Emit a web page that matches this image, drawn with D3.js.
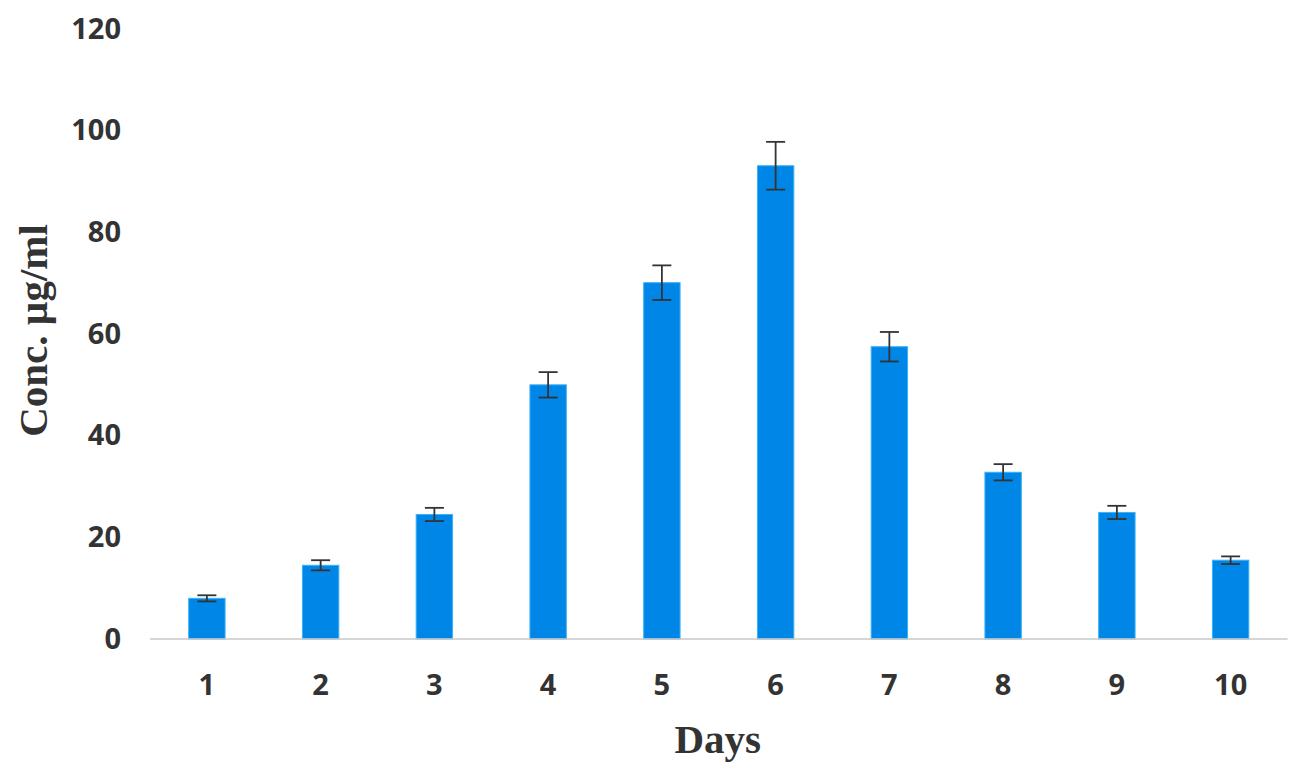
<!DOCTYPE html>
<html>
<head>
<meta charset="utf-8">
<script src="https://cdn.jsdelivr.net/npm/d3@7"></script>
<style>
  html, body { margin: 0; padding: 0; background: #ffffff; }
  svg { display: block; }
</style>
</head>
<body>
<svg id="chart" width="1300" height="774"></svg>
<script>
const days = ["1", "2", "3", "4", "5", "6", "7", "8", "9", "10"];
const concentration = [8.0, 14.5, 24.5, 50.0, 70.1, 93.1, 57.5, 32.8, 24.9, 15.5];
const errors = [0.6, 1.0, 1.3, 2.5, 3.4, 4.7, 2.9, 1.6, 1.3, 0.75];
const yTicks = [0, 20, 40, 60, 80, 100, 120];
const xTitle = "Days";
const yTitle = "Conc. µg/ml";

(function () {
const svg = d3.select("#chart");
const mLeft = 150, mRight = 1287.5, mTop = 29, mBottom = 639;

const x = d3.scaleBand().domain(days).range([mLeft, mRight]).paddingInner(0.68).paddingOuter(0.34);
const y = d3.scaleLinear().domain([0, 120]).range([mBottom, mTop]);

const tickFont = "'Open Sans', sans-serif";
const textColor = "#333333";

// Y axis (labels only)
const yAxis = svg.append("g")
  .attr("transform", `translate(${mLeft},0)`)
  .call(d3.axisLeft(y).tickValues(yTicks).tickSize(0).tickPadding(29));
yAxis.select(".domain").remove();
yAxis.selectAll("text")
  .attr("font-family", tickFont).attr("font-weight", "bold")
  .attr("font-size", "29px").attr("fill", textColor);

// Bars
svg.append("g").selectAll("rect").data(days).join("rect")
  .attr("x", d => x(d))
  .attr("y", (d, i) => y(concentration[i]))
  .attr("width", x.bandwidth())
  .attr("height", (d, i) => y(0) - y(concentration[i]))
  .attr("fill", "#0086e6")
  .attr("stroke", "#3ab2f7")
  .attr("stroke-width", 1);

// Error bars
const eb = svg.append("g").attr("stroke", "#333333").attr("stroke-width", 1.8).attr("fill", "none");
const capHalf = 9.5;
days.forEach((d, i) => {
  const cx = x(d) + x.bandwidth() / 2;
  const hi = y(concentration[i] + errors[i]);
  const lo = y(concentration[i] - errors[i]);
  eb.append("line").attr("x1", cx).attr("x2", cx).attr("y1", hi).attr("y2", lo);
  eb.append("line").attr("x1", cx - capHalf).attr("x2", cx + capHalf).attr("y1", hi).attr("y2", hi);
  eb.append("line").attr("x1", cx - capHalf).attr("x2", cx + capHalf).attr("y1", lo).attr("y2", lo);
});

// X axis
const xAxis = svg.append("g")
  .attr("transform", `translate(0,${mBottom})`)
  .call(d3.axisBottom(x).tickSize(0).tickPadding(35));
xAxis.select(".domain").attr("stroke", "#c8c8c8").attr("stroke-width", 1.6)
  .attr("d", `M${mLeft},0H${mRight}`);
xAxis.selectAll("text")
  .attr("font-family", tickFont).attr("font-weight", "bold")
  .attr("font-size", "29px").attr("fill", textColor);

// Axis titles
svg.append("text")
  .attr("x", (mLeft + mRight) / 2 - 1).attr("y", 753)
  .attr("text-anchor", "middle")
  .attr("font-family", "'Liberation Serif', 'Times New Roman', serif")
  .attr("font-weight", "bold").attr("font-size", "41px").attr("fill", textColor)
  .text(xTitle);

svg.append("text")
  .attr("transform", "translate(47,330.5) rotate(-90)")
  .attr("text-anchor", "middle")
  .attr("font-family", "'Liberation Serif', 'Times New Roman', serif")
  .attr("font-weight", "bold").attr("font-size", "41px").attr("fill", textColor)
  .text(yTitle);
})();
</script>
</body>
</html>
